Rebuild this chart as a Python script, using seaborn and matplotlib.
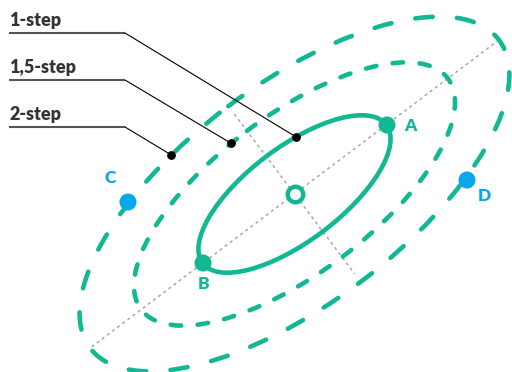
import numpy as np
import pandas as pd
import seaborn as sb
import matplotlib.pyplot as plt
from matplotlib.patches import Ellipse

# ellipse family (pixel-like units, y grows downward)
center_x, center_y = 294.5, 194
tilt = 37                      # degrees of the major axis above horizontal
step_labels = ['1-step', '1,5-step', '2-step']
semi_major = [115, 192, 256]
semi_minor = [47, 79, 110]
pointer_deg = [-72, -96, -107]  # where each label points on its ellipse
major_axis_half = 254
minor_axis_half = 100

# observations
point_names = ['A', 'B', 'C', 'D']
point_x = [387, 203, 128, 467]
point_y = [125, 263, 202, 180]
point_group = ['inside', 'inside', 'outside', 'outside']

GREEN = '#12B893'
BLUE = '#0AA7EC'

sb.set_style('white')
plt.rcParams['font.family'] = ['Lato', 'DejaVu Sans']

fig = plt.figure(figsize=(5.12, 3.72), dpi=100)
ax = fig.add_axes([0, 0, 1, 1])

phi = np.deg2rad(-tilt)
e_major = np.array([np.cos(phi), np.sin(phi)])
e_minor = np.array([-np.sin(phi), np.cos(phi)])
c = np.array([center_x, center_y])

# dotted principal axes
for vec, half in [(e_major, major_axis_half), (e_minor, minor_axis_half)]:
    p0, p1 = c - vec * half, c + vec * half
    ax.plot([p0[0], p1[0]], [p0[1], p1[1]], color='#a8a8a8', lw=1.1,
            ls=(0, (2, 2.2)), zorder=1)

# ellipses
styles = ['-', (0, (2.3, 3.6)), (0, (3.8, 5.3))]
for a, b, ls in zip(semi_major, semi_minor, styles):
    ax.add_patch(Ellipse((center_x, center_y), 2 * a, 2 * b, angle=-tilt,
                         fill=False, ec=GREEN, lw=3.3, ls=ls,
                         capstyle='round', zorder=2))

# step labels with leader lines
label_rows = [33, 80, 127]
for lab, a, b, t, row in zip(step_labels, semi_major, semi_minor, pointer_deg, label_rows):
    t = np.deg2rad(t)
    p = c + a * np.cos(t) * e_major + b * np.sin(t) * e_minor
    ax.plot([9, 125], [row, row], color='#555555', lw=1.5, solid_capstyle='butt', zorder=3)
    ax.plot([125, p[0]], [row, p[1]], color='black', lw=0.8, zorder=3)
    ax.scatter([p[0]], [p[1]], s=28, color='black', zorder=5)
    ax.text(9, row - 7, lab, fontsize=13, fontweight='heavy', color='#333333',
            va='baseline', ha='left')

# points A-D
pts = pd.DataFrame({'name': point_names, 'x': point_x, 'y': point_y, 'group': point_group})
sb.scatterplot(data=pts, x='x', y='y', hue='group', palette={'inside': GREEN, 'outside': BLUE},
               s=150, linewidth=0, legend=False, ax=ax, zorder=4)

# centre ring
sb.scatterplot(x=[center_x], y=[center_y], s=125, facecolor='white', edgecolor=GREEN,
               linewidth=3.2, ax=ax, zorder=4)

offsets = {'A': (17, 1, 'left'), 'B': (1, 21, 'center'), 'C': (-18, -24, 'center'), 'D': (17, 16, 'center')}
for _, r in pts.iterrows():
    dx, dy, ha = offsets[r['name']]
    col = GREEN if r['group'] == 'inside' else BLUE
    ax.text(r['x'] + dx, r['y'] + dy, r['name'], fontsize=12.5, fontweight='heavy',
            color=col, ha=ha, va='center')

ax.set_xlim(0, 512)
ax.set_ylim(372, 0)
ax.axis('off')
fig.savefig('out.png', dpi=100)
